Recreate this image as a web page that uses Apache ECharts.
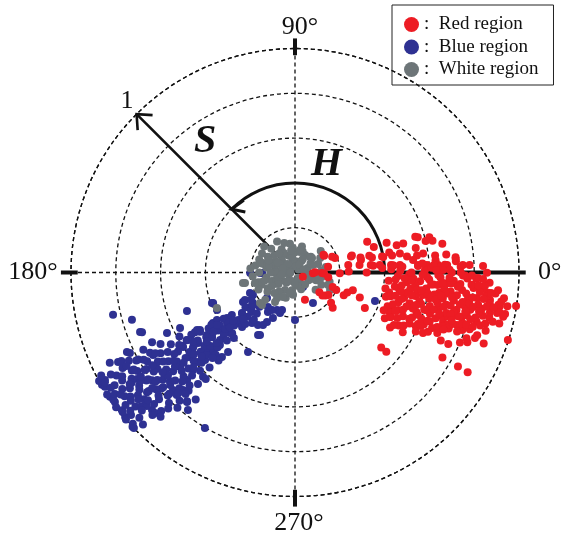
<!DOCTYPE html>
<html>
<head>
<meta charset="utf-8">
<script src="https://cdn.jsdelivr.net/npm/echarts@6/dist/echarts.min.js"></script>
<style>html,body{margin:0;padding:0;background:#fff}#c{width:567px;height:537px}</style>
</head>
<body>
<div id="c"></div>
<script>
// ---- data: [S (saturation 0..1), H (hue, degrees)] ----
const seriesNames = ['Red region', 'Blue region', 'White region'];
const angleTicks = [0, 90, 180, 270];
const angleLabels = ['0°', '90°', '180°', '270°'];
const radiusTicks = [0.2, 0.4, 0.6, 0.8, 1.0];

const redPoints = [
  [0.08,358],[0.12,359],[0.15,30],[0.19,20],[0.2,359],[0.24,1],[0.26,16],[0.3,11],[0.32,0],[0.35,11],[0.35,5],[0.4,10],[0.39,3],[0.43,12],[0.44,4],
  [0.2,337],[0.25,339],[0.27,343],[0.24,335],[0.31,339],[0.17,323],[0.13,290],[0.23,317],[0.35,333],[0.46,340],[0.47,335],[0.52,333],[0.55,331],[0.51,319],[0.54,319],
  [0.15,32],[0.18,23],[0.15,10],[0.04,331],[0.09,1],[0.13,358],[0.15,352],[0.14,321],[0.18,326],[0.21,320],[0.18,339],[0.16,320],
  [0.35,23],[0.37,18],[0.43,18],[0.47,15],[0.5,15],[0.56,16.5],[0.57,16],[0.62,14.7],[0.63,13],[0.67,11],[0.55,11.5],[0.6,13.6],[0.72,4.8],
  [0.265,16.6],[0.3,13],[0.34,12.8],[0.395,10.4],[0.44,9.9],[0.476,10.3],[0.505,8.1],[0.55,7.9],[0.578,8.4],[0.63,6.9],[0.68,6.8],[0.72,5.4],
  [0.24,8],[0.29,6.6],[0.34,5.7],[0.38,5],[0.43,4.5],[0.47,4.1],[0.55,3.5],[0.59,3.3],[0.64,3],[0.68,2.8],[0.75,2.6],[0.78,2.5],
  [0.718,335],[0.755,335],[0.76,330],[0.84,330],[0.89,330],[0.8,337],[0.83,338],[0.855,340],[0.9,339.4],[0.997,342.4],[0.998,351.4],[0.956,348.8],[0.927,350.7],[0.879,352],[0.866,354],[0.837,355.6],[0.817,358.3],[0.632,334.7],[0.6,337.4],[0.857,359.9],
  [0.595,337.3],[0.697,341.5],[0.73,341.3],[0.78,343.3],[0.84,344.8],[0.92,348.7],[0.888,348.5],
  [0.42,355],[0.43,348],[0.44,340],[0.45,333],[0.43,2],[0.46,358],[0.47,351],[0.48,344],[0.46,337],[0.49,330],[0.44,4],[0.47,1],[0.5,355],[0.5,347],[0.49,340],[0.42,345],[0.45,352],[0.48,3],
  [0.51,359],[0.52,352],[0.53,345],[0.52,338],[0.54,334],[0.55,3],[0.56,356],[0.55,349],[0.57,342],[0.56,336],[0.58,1],[0.59,353],[0.58,346],[0.6,340],[0.6,357],[0.53,6],[0.57,4],[0.51,341],[0.54,349],[0.59,336],
  [0.61,2],[0.62,355],[0.61,349],[0.63,343],[0.62,338],[0.64,359],[0.65,352],[0.66,346],[0.64,340],[0.67,3],[0.68,356],[0.67,350],[0.69,343],[0.66,338],[0.7,0],[0.7,353],[0.63,5],[0.69,348],[0.61,344],[0.65,336],
  [0.71,357],[0.72,350],[0.71,344],[0.73,340],[0.74,2],[0.75,354],[0.74,347],[0.76,342],[0.77,358],[0.78,351],[0.77,345],[0.79,341],[0.8,355],[0.8,348],[0.72,4],[0.76,359],[0.73,352],[0.79,346],
  [0.81,358],[0.82,352],[0.83,346],[0.82,342],[0.84,355],[0.85,349],[0.86,344],[0.87,357],[0.88,351],[0.86,353],[0.89,347],[0.84,2],[0.9,354],[0.88,345],
  [0.92,351],[0.93,349],[0.95,348],[0.91,355],[0.94,353],
  [0.44,346],[0.46,342],[0.47,335],[0.5,336],[0.51,350],[0.53,357],[0.55,343],[0.56,339],[0.58,350],[0.59,358],[0.62,346],[0.63,351],[0.64,355],[0.66,342],[0.67,354],[0.68,339],[0.69,1],[0.71,348],[0.72,341],[0.74,356],[0.75,345],[0.77,349],[0.78,343],[0.79,356],[0.81,345],[0.83,350],[0.85,356],[0.86,347],
  [0.45,356],[0.48,350],[0.52,343],[0.54,354],[0.57,347],[0.6,351],[0.61,337],[0.65,358],[0.68,352],[0.7,345],[0.73,346],[0.76,350],[0.41,350],[0.43,337],[0.49,346],[0.55,352],[0.62,3],[0.66,1],[0.7,340],[0.75,359],[0.8,343],[0.83,354],
  [0.46,347],[0.48,339],[0.5,332],[0.52,356],[0.53,349],[0.55,338],[0.57,352],[0.58,341],[0.6,334],[0.61,355],[0.62,350],[0.63,340],[0.64,345],[0.65,348],[0.66,356],[0.67,344],[0.68,347],[0.69,337],[0.7,356],[0.71,351],
  [0.72,345],[0.73,355],[0.74,342],[0.75,349],[0.76,345],[0.77,353],[0.78,347],[0.79,350],[0.8,352],[0.81,349],[0.82,356],[0.83,343],[0.84,348],[0.85,352],[0.86,341],[0.87,350],[0.88,354],[0.89,343],[0.9,350],[0.91,346],
  [0.93,352],[0.94,346],[0.96,351],[0.52,0],[0.57,359],[0.63,1],[0.69,358],[0.74,0],[0.79,359],[0.84,358],[0.49,357],[0.56,345],[0.64,349],[0.71,339],[0.77,340],[0.82,339],[0.6,344],[0.66,351],[0.73,343],[0.48,353]
];

const bluePoints = [
  [0.512,199.6],[0.395,200.2],[0.221,204.5],[0.267,209.6],[0.232,216],[0.214,235.6],[0.186,244.4],[0.193,249.7],[0.212,270],[0.298,217.4],[0.261,222.6],[0.34,221.5],[0.378,216.6],[0.422,217.5],[0.396,223],[0.339,225.8],[0.296,229.6],[0.287,234.8],[0.254,240.5],[0.324,239.4],[0.412,239.4],
  [0.43,211.6],[0.408,211.3],[0.496,211.2],[0.52,210.8],[0.482,215.4],[0.469,217.8],[0.434,222.3],[0.466,224],[0.495,222.3],[0.524,221.4],[0.535,216],[0.567,216.5],[0.569,212],[0.6,213.6],[0.602,218.8],[0.589,222.7],[0.56,224.2],[0.51,224.1],[0.499,229.2],[0.464,229.9],[0.63,223.7],[0.621,228.6],[0.68,224.9],[0.664,219.4],
  [0.834,193.1],[0.758,196.2],[0.733,201.3],[0.632,205.3],[0.57,205.8],[0.507,210.4],[0.39,200.4],[0.386,205.7],[0.365,213.8],[0.2,180.6],[0.147,180.9],[0.156,180.8],[0.213,208.2],[0.169,222.3],[0.196,238.5],[0.177,250.9],[0.274,238.6],[0.32,240.8],[0.158,300.5],[0.379,340.4],[0.074,299],
  [0.255,208.8],[0.253,217.5],[0.196,231.9],[0.226,244.2],
  [0.83,205.3],[0.885,206.8],[0.733,210.2],[0.741,201],[0.997,210.2],[0.975,209.5],[0.995,213.9],[0.99,215.7],[0.987,218.5],[0.996,220.4],[1.0,223.5],[0.886,223.9],[0.885,225.1],[0.753,230.2],[0.778,232.1],[0.802,239.9],[0.756,223.9],[0.725,226.4],
  [1.0,209],[0.99,211],[1.0,213],[0.99,215],[1.0,217],[0.99,219],[1.0,221],[0.99,223],[1.0,224],[0.98,210],[0.97,214],[0.96,218],[0.97,221],[0.95,212],[0.94,216],[0.93,220],[0.95,223],[0.92,210],[0.93,214],[0.96,225],[0.98,208],[0.94,209],
  [0.91,212],[0.9,215],[0.89,218],[0.91,221],[0.88,209],[0.87,213],[0.86,216],[0.88,220],[0.86,223],[0.9,225],[0.87,207],[0.85,211],[0.85,219],[0.89,222],[0.86,226],[0.92,217],[0.88,214],[0.85,214],
  [0.84,208],[0.83,212],[0.82,216],[0.84,219],[0.83,223],[0.81,226],[0.8,209],[0.79,213],[0.8,217],[0.79,221],[0.78,224],[0.77,228],[0.76,207],[0.77,211],[0.75,215],[0.76,219],[0.75,222],[0.76,226],[0.82,206],[0.84,215],[0.81,220],[0.78,218],[0.8,229],[0.78,210],[0.75,230],
  [0.74,209],[0.73,213],[0.72,217],[0.74,221],[0.73,225],[0.71,228],[0.7,211],[0.69,215],[0.7,219],[0.68,223],[0.69,227],[0.67,212],[0.66,217],[0.67,221],[0.65,225],[0.72,232],[0.66,229],[0.71,206],[0.68,208],[0.73,219],
  [0.64,210],[0.63,214],[0.62,218],[0.64,222],[0.61,226],[0.6,213],[0.59,217],[0.6,221],[0.58,224],[0.57,212],[0.56,216],[0.57,228],[0.62,230],[0.55,220],[0.59,209],
  [0.54,211],[0.53,215],[0.52,219],[0.54,223],[0.51,226],[0.5,212],[0.49,216],[0.5,221],[0.48,224],[0.47,218],[0.46,213],[0.52,229],[0.45,222],
  [0.44,212],[0.43,217],[0.42,221],[0.41,215],[0.4,219],[0.39,224],[0.38,213],[0.37,217],[0.36,221],[0.4,227],[0.43,225],
  [0.34,214],[0.33,220],[0.32,226],[0.3,218],[0.29,223],[0.28,229],[0.27,215],[0.26,221],[0.25,227],[0.24,218],[0.23,212],[0.22,224],
  [0.97,212],[0.95,215],[0.93,218],[0.96,220],[0.92,222],[0.9,211],[0.89,214],[0.87,217],[0.9,219],[0.87,221],[0.86,209],[0.84,211],[0.83,214],[0.82,219],[0.82,222],[0.8,213],[0.81,216],[0.79,218],[0.79,224],[0.77,215],
  [0.78,221],[0.76,213],[0.74,217],[0.75,226],[0.72,210],[0.71,214],[0.72,222],[0.7,224],[0.68,218],[0.67,216],[0.65,214],[0.64,219],[0.62,223],[0.61,212],[0.58,219],[0.56,222],[0.55,214],[0.53,226],[0.5,218],[0.47,222],
  [0.45,216],[0.42,214],[0.38,220],[0.35,218],[0.31,222],[0.88,227],[0.83,227],[0.73,228],[0.92,206],[0.81,209]
];

const grayPoints = [
  [0.02,40],[0.03,120],[0.03,200],[0.04,300],[0.05,160],[0.05,80],[0.06,20],[0.06,230],[0.07,140],[0.07,190],[0.08,110],[0.08,260],[0.09,170],[0.09,60],[0.1,150],[0.1,210],
  [0.04,250],[0.05,350],[0.06,100],[0.07,330],[0.08,30],[0.09,130],[0.1,180],[0.11,160],[0.11,200],[0.12,140],[0.12,120],[0.13,170],[0.13,190],[0.14,150],[0.14,210],[0.15,165],[0.15,135],[0.16,180],[0.16,200],
  [0.11,95],[0.12,75],[0.13,100],[0.1,45],[0.11,20],[0.12,5],[0.1,340],[0.08,290],[0.09,240],[0.11,230],[0.12,250],[0.13,225],[0.14,235],[0.15,215],[0.17,195],[0.18,170],[0.17,150],[0.19,185],[0.2,175],
  [0.06,60],[0.05,130],[0.04,170],[0.03,80],[0.07,210],[0.08,180],[0.09,200],[0.1,120],[0.11,130],[0.09,90],[0.1,70],[0.08,150],[0.06,280],[0.07,310],[0.12,350],[0.14,10],[0.13,30],[0.15,40],[0.16,345],[0.13,335],[0.12,320],[0.1,265],[0.14,110],[0.16,120],[0.17,160],[0.18,205],[0.18,140],
  [0.383,204.5],[0.207,224.6],[0.228,191.9],[0.185,194.7],[0.18,222.5],[0.175,333.4],[0.105,349],[0.149,163.5],[0.094,76.3],[0.096,46],[0.103,77.5],[0.1,40.5],
  [0.159,235.9],[0.122,243.9],[0.094,256],[0.158,339.3],[0.087,22.6],[0.153,196],[0.237,191.4],[0.162,164.8],[0.129,165],[0.207,221],
  [0.02,180],[0.03,300],[0.04,60],[0.05,230],[0.06,160],[0.07,100],[0.08,200],[0.09,150],[0.1,100],[0.06,190],[0.05,270],[0.04,20],[0.08,340],[0.11,180],[0.12,165],[0.13,155],[0.07,60],[0.09,215],[0.14,195],[0.12,210]
];

// ---- chart ----
const FONT = '"Liberation Serif", "Times New Roman", serif';
const chart = echarts.init(document.getElementById('c'), null, { renderer: 'canvas' });

const dash = { color: '#111', type: [4, 3], width: 1.3 };

function renderAnnotations(params, api) {
  const C = api.coord([0, 0]);
  const P = (r, a) => api.coord([r, a]);
  const stroke = (w) => ({ stroke: '#111', lineWidth: w, fill: 'none' });
  const seg = (a, b, w) => ({ type: 'line', shape: { x1: a[0], y1: a[1], x2: b[0], y2: b[1] }, style: stroke(w) });
  const arm = (t, ang, len) => [t[0] + len * Math.cos(ang), t[1] + len * Math.sin(ang)];
  const ch = [];
  // thick 0 deg axis and the ticks on 90/180/270
  ch.push(seg(C, P(1.03, angleTicks[0]), 4));
  angleTicks.slice(1).forEach(a => ch.push(seg(P(0.97, a), P(1.045, a), 4)));
  // S arrow
  const T = P(radiusTicks[4], 135);
  ch.push(seg(C, T, 2.6));
  const back = Math.atan2(C[1] - T[1], C[0] - T[0]);
  ch.push({ type: 'polyline', shape: { points: [arm(T, back - 0.72, 16), T, arm(T, back + 0.72, 16)] }, style: stroke(2.6) });
  // H arc
  const p0 = P(0.4, 0);
  const rH = Math.hypot(p0[0] - C[0], p0[1] - C[1]);
  ch.push({ type: 'arc', shape: { cx: C[0], cy: C[1], r: rH, startAngle: -135 * Math.PI / 180, endAngle: 0, clockwise: true }, style: stroke(3) });
  const TH = P(0.4, 135);
  ch.push({ type: 'polyline', shape: { points: [arm(TH, -36 * Math.PI / 180, 15), TH, arm(TH, 12 * Math.PI / 180, 14)] }, style: stroke(3) });
  // texts
  const txt = (s, p, font, align, dx) => ({
    type: 'text', x: p[0] + (dx || 0), y: p[1],
    style: { text: s, fill: '#111', font: font, align: align, verticalAlign: 'middle', textAlign: align, textVerticalAlign: 'middle' }
  });
  const lab = '26px ' + FONT;
  ch.push(txt(angleLabels[0], P(1.085, angleTicks[0]), lab, 'left', 0));
  ch.push(txt(angleLabels[1], P(1.094, angleTicks[1]), lab, 'center', 5));
  ch.push(txt(angleLabels[2], P(1.06, angleTicks[2]), lab, 'right', 0));
  ch.push(txt(angleLabels[3], P(1.12, angleTicks[3]), lab, 'center', 4));
  ch.push(txt('1', P(1.07, 134.5), lab, 'center', 0));
  ch.push(txt('S', P(0.709, 124.5), 'italic bold 40px ' + FONT, 'center', 0));
  ch.push(txt('H', P(0.50, 73.7), 'italic bold 40px ' + FONT, 'center', 0));
  return { type: 'group', children: ch };
}

chart.setOption({
  animation: false,
  backgroundColor: '#fff',
  polar: { center: [295, 272.5], radius: 224 },
  angleAxis: {
    type: 'value', min: 0, max: 360, interval: 90, startAngle: 0, clockwise: false,
    axisLine: { show: true, lineStyle: dash },
    axisTick: { show: false }, axisLabel: { show: false },
    splitLine: { show: true, lineStyle: dash }
  },
  radiusAxis: {
    type: 'value', min: 0, max: 1, interval: 0.2,
    axisLine: { show: false }, axisTick: { show: false }, axisLabel: { show: false },
    splitLine: { show: true, lineStyle: dash }
  },
  legend: {
    data: seriesNames,
    orient: 'vertical', left: 392, top: 5,
    padding: [10, 15, 6, 12], itemGap: 3.5, itemWidth: 15, itemHeight: 15,
    icon: 'circle', borderColor: '#222', borderWidth: 1,
    selectedMode: false,
    formatter: n => ':\u2002' + n,
    textStyle: { fontFamily: FONT, fontSize: 19, color: '#111' }
  },
  series: [
    { type: 'custom', coordinateSystem: 'polar', silent: true, z: 1, data: [[0, 0]], renderItem: renderAnnotations },
    { name: seriesNames[1], type: 'scatter', coordinateSystem: 'polar', data: bluePoints, symbolSize: 8, itemStyle: { color: '#2e3192', opacity: 1 }, z: 3 },
    { name: seriesNames[2], type: 'scatter', coordinateSystem: 'polar', data: grayPoints, symbolSize: 8, itemStyle: { color: '#6d7578', opacity: 1 }, z: 3 },
    { name: seriesNames[0], type: 'scatter', coordinateSystem: 'polar', data: redPoints, symbolSize: 8, itemStyle: { color: '#ed1c24', opacity: 1 }, z: 3 }
  ]
});
</script>
</body>
</html>
